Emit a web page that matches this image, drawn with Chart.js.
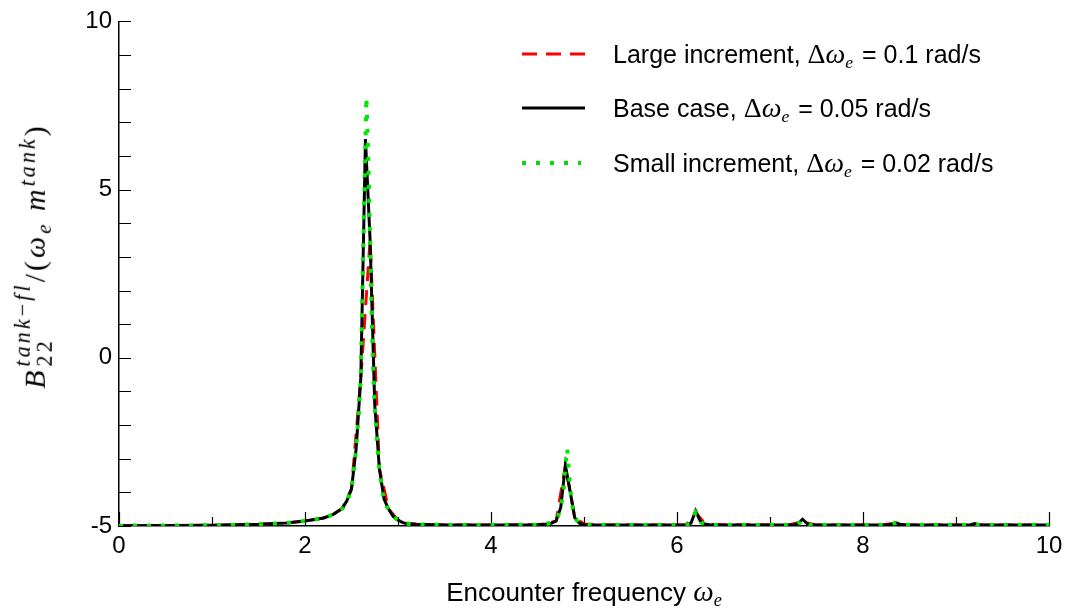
<!DOCTYPE html>
<html>
<head>
<meta charset="utf-8">
<script src="https://cdn.jsdelivr.net/npm/chart.js@4.4.1/dist/chart.umd.min.js"></script>
<style>
  html, body { margin: 0; padding: 0; background: #fff; }
  #wrap { position: relative; width: 1069px; height: 615px; overflow: hidden; }
  canvas { position: absolute; left: 0; top: 0; }
  .sans { font-family: "Liberation Sans", Arial, sans-serif; }
  .m { font-family: "Liberation Serif", "DejaVu Serif", serif; }
  .mi { font-family: "Liberation Serif", "DejaVu Serif", serif; font-style: italic; }
  #ytitle { position: absolute; left: 34px; top: 256px; transform: translate(-50%, -50%) rotate(-90deg);
            white-space: nowrap; font-size: 30px; line-height: 1; color: #000; letter-spacing: 3px; }
  .stk { display: inline-block; vertical-align: -0.32em; font-size: 0.74em; line-height: 1.0; margin-left: 1px; }
  .stk > span { display: block; }
  #xtitle { position: absolute; left: 584px; top: 574px; transform: translateX(-50%); white-space: nowrap;
            font-size: 26px; line-height: 1.2; color: #000; }
  #xtitle .mi { font-size: 29px; }
  .leg { position: absolute; left: 517px; height: 30px; width: 540px; white-space: nowrap; color: #000; }
  .leg svg { position: absolute; left: 0; top: 0; }
  .leg .t { position: absolute; left: 96px; top: 0; height: 30px; line-height: 30px; font-size: 25px; }
  .leg .t .m, .leg .t .mi { font-size: 28px; }
  .leg .t .eq { margin-left: 2px; }
  sub.e { font-size: 0.7em !important; vertical-align: -0.3em; line-height: 0; }
</style>
</head>
<body>
<div id="wrap">
  <canvas id="c" width="1069" height="615"></canvas>
  <div id="ytitle"><span class="mi">B</span><span class="stk"><span><span class="mi">tank</span><span class="m">−</span><span class="mi">fl</span></span><span class="m">22</span></span><span class="m">/(</span><span class="mi">ω</span><sub class="mi e">e</sub><span class="m"> </span><span class="mi">m</span><sup class="mi" style="font-size:0.74em;vertical-align:0.45em;line-height:0">tank</sup><span class="m">)</span></div>
  <div id="xtitle"><span class="sans">Encounter frequency </span><span class="mi">ω</span><sub class="mi e">e</sub></div>
  <div class="leg" style="top:39px">
    <svg width="80" height="30"><line x1="5" y1="15" x2="70" y2="15" stroke="#ff0000" stroke-width="3" stroke-dasharray="15 9"/></svg>
    <div class="t"><span class="sans">Large increment, </span><span class="m">Δ</span><span class="mi">ω</span><sub class="mi e">e</sub><span class="sans eq"> = 0.1 rad/s</span></div>
  </div>
  <div class="leg" style="top:93px">
    <svg width="80" height="30"><line x1="5" y1="15" x2="68" y2="15" stroke="#000" stroke-width="3"/></svg>
    <div class="t"><span class="sans">Base case, </span><span class="m">Δ</span><span class="mi">ω</span><sub class="mi e">e</sub><span class="sans eq"> = 0.05 rad/s</span></div>
  </div>
  <div class="leg" style="top:148px">
    <svg width="80" height="30"><line x1="5" y1="15" x2="64" y2="15" stroke="#00e000" stroke-width="4" stroke-dasharray="4 10"/></svg>
    <div class="t"><span class="sans">Small increment, </span><span class="m">Δ</span><span class="mi">ω</span><sub class="mi e">e</sub><span class="sans eq"> = 0.02 rad/s</span></div>
  </div>
</div>
<script>
// ---- data ----
const xTicks = [0, 2, 4, 6, 8, 10];
const yTicks = [-5, 0, 5, 10];

// Large increment, dw = 0.1 rad/s
const largeX = [0, 1.0, 1.5, 1.8, 2.0, 2.1, 2.2, 2.3, 2.4, 2.5, 2.6, 2.7, 2.8, 2.9, 3.0, 3.1, 3.2, 3.5, 4.0, 4.5, 4.6, 4.7, 4.8, 4.9, 5.0, 5.2, 6.0, 6.1, 6.2, 6.3, 6.4, 7.2, 7.3, 7.4, 7.5, 8.2, 8.3, 8.4, 8.5, 9.1, 9.2, 9.3, 10];
const largeY = [-4.99, -4.98, -4.95, -4.91, -4.85, -4.81, -4.76, -4.66, -4.48, -3.9, -0.6, 3.5, -3.3, -4.5, -4.82, -4.92, -4.95, -4.97, -4.97, -4.96, -4.94, -4.85, -3.2, -4.75, -4.94, -4.97, -4.97, -4.96, -4.6, -4.92, -4.96, -4.97, -4.9, -4.91, -4.97, -4.97, -4.93, -4.95, -4.97, -4.97, -4.95, -4.97, -4.97];

// Base case, dw = 0.05 rad/s
const baseX = [0, 1.0, 1.5, 1.8, 2.0, 2.1, 2.2, 2.3, 2.35, 2.4, 2.45, 2.5, 2.55, 2.6, 2.65, 2.7, 2.75, 2.8, 2.85, 2.9, 2.95, 3.0, 3.05, 3.1, 3.2, 3.5, 4.0, 4.5, 4.6, 4.65, 4.7, 4.75, 4.8, 4.85, 4.9, 4.95, 5.0, 5.2, 6.0, 6.1, 6.15, 6.2, 6.25, 6.3, 6.35, 7.2, 7.25, 7.3, 7.35, 7.4, 7.45, 8.2, 8.25, 8.3, 8.35, 8.4, 8.45, 9.1, 9.15, 9.2, 9.25, 9.3, 10];
const baseY = [-4.99, -4.98, -4.95, -4.91, -4.85, -4.81, -4.76, -4.66, -4.57, -4.48, -4.25, -3.9, -2.7, -0.6, 6.5, 3.5, -1.4, -3.3, -4.2, -4.5, -4.72, -4.82, -4.9, -4.93, -4.95, -4.97, -4.97, -4.96, -4.94, -4.92, -4.85, -4.45, -3.2, -3.95, -4.75, -4.92, -4.96, -4.97, -4.97, -4.96, -4.92, -4.55, -4.85, -4.94, -4.96, -4.97, -4.97, -4.93, -4.8, -4.93, -4.97, -4.97, -4.97, -4.95, -4.9, -4.95, -4.97, -4.97, -4.97, -4.93, -4.97, -4.97, -4.97];

// Small increment, dw = 0.02 rad/s
const smallX = [0, 1.0, 1.5, 1.8, 2.0, 2.1, 2.2, 2.3, 2.36, 2.4, 2.42, 2.44, 2.46, 2.48, 2.5, 2.52, 2.54, 2.56, 2.58, 2.6, 2.62, 2.64, 2.66, 2.68, 2.7, 2.72, 2.74, 2.76, 2.78, 2.8, 2.82, 2.84, 2.86, 2.88, 2.9, 2.92, 2.94, 2.96, 2.98, 3.0, 3.04, 3.08, 3.14, 3.2, 3.5, 4.0, 4.5, 4.6, 4.64, 4.68, 4.7, 4.72, 4.74, 4.76, 4.78, 4.8, 4.82, 4.84, 4.86, 4.88, 4.9, 4.92, 4.94, 4.98, 5.04, 5.2, 6.0, 6.1, 6.14, 6.16, 6.18, 6.2, 6.22, 6.24, 6.26, 6.3, 6.36, 7.2, 7.28, 7.32, 7.34, 7.36, 7.38, 7.42, 7.5, 8.2, 8.3, 8.34, 8.36, 8.4, 8.5, 9.1, 9.18, 9.2, 9.22, 9.3, 10];
const smallY = [-4.99, -4.98, -4.95, -4.91, -4.85, -4.81, -4.76, -4.66, -4.56, -4.48, -4.42, -4.33, -4.2, -4.05, -3.9, -3.5, -3.0, -2.3, -1.6, -0.6, 2.4, 5.0, 7.75, 6.0, 3.5, 0.8, -0.9, -1.9, -2.7, -3.3, -3.75, -4.1, -4.3, -4.43, -4.5, -4.6, -4.68, -4.74, -4.79, -4.82, -4.88, -4.92, -4.94, -4.95, -4.97, -4.97, -4.96, -4.94, -4.9, -4.86, -4.82, -4.72, -4.55, -4.3, -3.9, -3.2, -2.7, -3.5, -4.1, -4.5, -4.72, -4.83, -4.9, -4.94, -4.96, -4.97, -4.97, -4.96, -4.93, -4.88, -4.75, -4.6, -4.68, -4.82, -4.9, -4.95, -4.97, -4.97, -4.96, -4.9, -4.83, -4.84, -4.91, -4.96, -4.97, -4.97, -4.96, -4.91, -4.92, -4.96, -4.97, -4.97, -4.96, -4.94, -4.96, -4.97, -4.97];

const pts = (xs, ys) => xs.map((x, i) => ({ x: x, y: ys[i] }));

const innerTicks = {
  id: 'innerTicks',
  beforeDatasetsDraw(chart) {
    const { ctx, scales: { x, y } } = chart;
    ctx.save();
    ctx.strokeStyle = '#000';
    ctx.lineWidth = 1.2;
    ctx.beginPath();
    for (let v = x.min; v <= x.max; v += 1) {
      const px = Math.round(x.getPixelForValue(v)) + 0.5;
      const len = xTicks.includes(v) ? 14 : 9;
      ctx.moveTo(px, y.bottom);
      ctx.lineTo(px, y.bottom - len);
    }
    for (let v = y.min; v <= y.max; v += 1) {
      const py = Math.round(y.getPixelForValue(v)) + 0.5;
      ctx.moveTo(x.left, py);
      ctx.lineTo(x.left + 12, py);
    }
    ctx.stroke();
    ctx.restore();
  }
};

const tickFont = { family: '"Liberation Sans", Arial, sans-serif', size: 24 };

new Chart(document.getElementById('c'), {
  type: 'line',
  data: {
    datasets: [
      { label: 'Small increment', data: pts(smallX, smallY), borderColor: '#00e600', borderWidth: 4,
        borderDash: [4, 10], pointRadius: 0, tension: 0, order: 0, borderCapStyle: 'butt' },
      { label: 'Base case', data: pts(baseX, baseY), borderColor: '#000000', borderWidth: 3,
        pointRadius: 0, tension: 0, order: 1 },
      { label: 'Large increment', data: pts(largeX, largeY), borderColor: '#ff0000', borderWidth: 3,
        borderDash: [15, 9], pointRadius: 0, tension: 0, order: 2 }
    ]
  },
  options: {
    responsive: false,
    animation: false,
    devicePixelRatio: 1,
    layout: { padding: { left: 0, right: 20, top: 20, bottom: 0 } },
    plugins: { legend: { display: false }, tooltip: { enabled: false } },
    scales: {
      x: {
        type: 'linear', min: 0, max: 10,
        afterFit: s => { s.height = 89; },
        grid: { display: true, drawOnChartArea: false, drawTicks: false },
        border: { display: true, color: '#000', width: 1.5 },
        ticks: { stepSize: 1, autoSkip: false, maxRotation: 0, padding: 6, color: '#000', font: tickFont,
                 callback: v => (xTicks.includes(v) ? String(v) : '') }
      },
      y: {
        type: 'linear', min: -5, max: 10,
        afterFit: s => { s.width = 119; },
        grid: { display: true, drawOnChartArea: false, drawTicks: false },
        border: { display: true, color: '#000', width: 1.5 },
        ticks: { stepSize: 1, autoSkip: false, padding: 7, color: '#000', font: tickFont,
                 callback: v => (yTicks.includes(v) ? String(v) : '') }
      }
    }
  },
  plugins: [innerTicks]
});
</script>
</body>
</html>
